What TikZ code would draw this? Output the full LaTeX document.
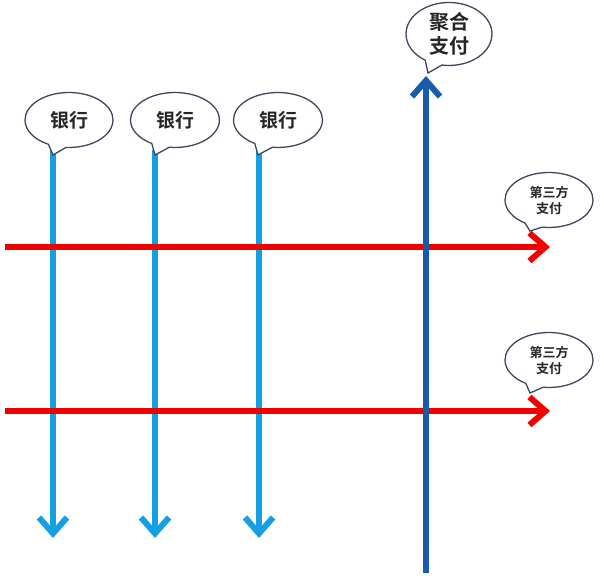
\documentclass[tikz,border=0pt]{standalone}
\usepackage{fontspec}
\newfontfamily\cjk{Noto Sans CJK SC Bold}
\usetikzlibrary{arrows.meta,shapes.callouts}
\definecolor{lblue}{RGB}{22,160,228}
\definecolor{dblue}{RGB}{22,92,172}
\definecolor{ared}{RGB}{240,0,0}
\definecolor{bubbleline}{RGB}{62,72,92}
\tikzset{
  bubble/.style={ellipse callout, draw=bubbleline, fill=white, line width=1.3pt,
    callout pointer arc=24, minimum width=#1, inner sep=0pt, font=\cjk,
    text=black!85, align=center},
  flow/.style={line width=6pt, -{Straight Barb[length=16pt,width=28pt,line width=6pt]}},
}
\begin{document}
\begin{tikzpicture}[x=1pt,y=-1pt]
\useasboundingbox (0,0) rectangle (604,578);
% light blue bank flows
\foreach \i/\x in {1/53,2/155,3/259}{
  \coordinate (bs\i) at (\x,150);
  \coordinate (be\i) at (\x,538);
  \draw[flow, lblue] (bs\i) -- (be\i);
}
% red third-party flows
\coordinate (rs1) at (5,247);
\coordinate (re1) at (550,247);
\coordinate (rs2) at (5,411);
\coordinate (re2) at (550,411);
\draw[flow, ared] (rs1) -- (re1);
\draw[flow, ared] (rs2) -- (re2);
% dark blue aggregated flow
\coordinate (ds) at (426,573);
\coordinate (de) at (426,76);
\draw[flow, dblue] (ds) -- (de);
% bubbles
\node[bubble=88pt, minimum height=55pt, font=\cjk\fontsize{19}{22}\selectfont,
  callout absolute pointer={(53,155)}] (bank1) at (69,120) {银行};
\node[bubble=89pt, minimum height=55pt, font=\cjk\fontsize{19}{22}\selectfont,
  callout absolute pointer={(155,155)}] (bank2) at (175,120) {银行};
\node[bubble=89pt, minimum height=55pt, font=\cjk\fontsize{19}{22}\selectfont,
  callout absolute pointer={(258,155)}] (bank3) at (278,120) {银行};
\node[bubble=86pt, minimum height=63pt, font=\cjk\fontsize{20}{24}\selectfont,
  callout absolute pointer={(428,73)}] (agg) at (449,34) {聚合\\支付};
\node[bubble=88pt, minimum height=55pt, font=\cjk\fontsize{13}{16}\selectfont,
  callout absolute pointer={(530,231)}] (tp1) at (549,200) {第三方\\支付};
\node[bubble=88pt, minimum height=55pt, font=\cjk\fontsize{13}{16}\selectfont,
  callout absolute pointer={(530,393)}] (tp2) at (549,360) {第三方\\支付};
\end{tikzpicture}
\end{document}
